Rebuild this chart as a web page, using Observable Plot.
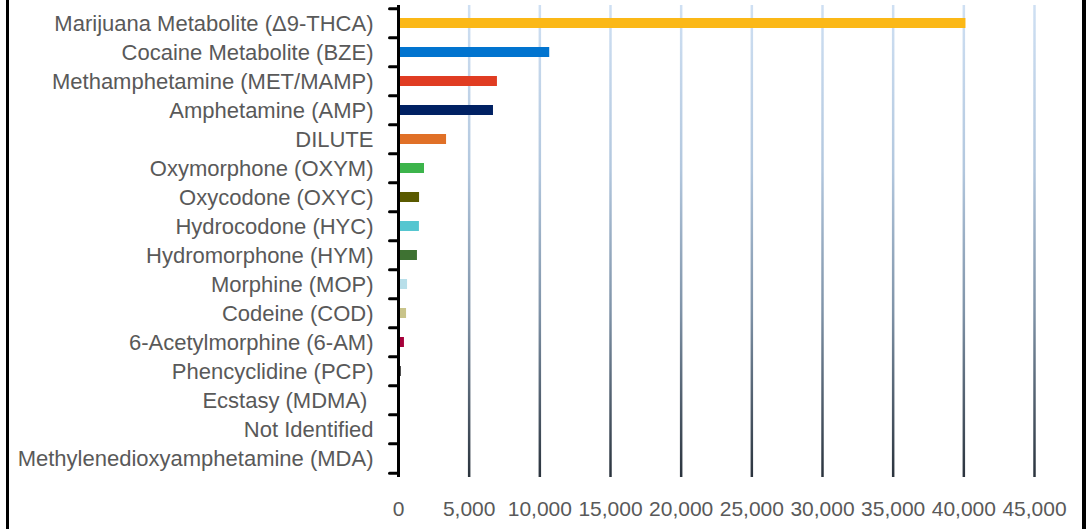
<!DOCTYPE html>
<html>
<head>
<meta charset="utf-8">
<script src="https://cdn.jsdelivr.net/npm/d3@7"></script>
<script src="https://cdn.jsdelivr.net/npm/@observablehq/plot@0.6"></script>
<style>
  html, body { margin: 0; padding: 0; background: #fff; }
  #wrap { position: relative; width: 1086px; height: 529px; overflow: hidden; }
  .edge { position: absolute; top: 0; height: 529px; background: #000; }
</style>
</head>
<body>
<div id="wrap">
  <div class="edge" style="left:6px;width:3px"></div>
  <div class="edge" style="left:1082px;width:4px"></div>
</div>
<script>
const categories = [
  "Marijuana Metabolite (Δ9-THCA)",
  "Cocaine Metabolite (BZE)",
  "Methamphetamine (MET/MAMP)",
  "Amphetamine (AMP)",
  "DILUTE",
  "Oxymorphone (OXYM)",
  "Oxycodone (OXYC)",
  "Hydrocodone (HYC)",
  "Hydromorphone (HYM)",
  "Morphine (MOP)",
  "Codeine (COD)",
  "6-Acetylmorphine (6-AM)",
  "Phencyclidine (PCP)",
  "Ecstasy (MDMA) ",
  "Not Identified",
  "Methylenedioxyamphetamine (MDA)"
];
const values = [40150, 10700, 7000, 6720, 3400, 1840, 1490, 1480, 1340, 640, 570, 420, 190, 80, 20, 10];
const barColors = ["#FBB817", "#0174CF", "#E03C22", "#002163", "#E07027", "#3CB44B", "#5A5A00", "#55C6D0",
  "#3E7232", "#B8DFEA", "#C9C48A", "#A6003A", "#000000", "#000000", "#000000", "#000000"];
const xTicks = [0, 5000, 10000, 15000, 20000, 25000, 30000, 35000, 40000, 45000];

const data = categories.map((c, i) => ({name: c, value: values[i]}));
const lastCat = [categories[categories.length - 1]];

const tickShape = {draw(context, l) { context.moveTo(0, 0); context.lineTo(0, -l); }};

const chart = Plot.plot({
  width: 1086,
  height: 529,
  marginLeft: 398,
  marginRight: 52,
  marginTop: 5,
  marginBottom: 52,
  style: {fontFamily: "'Liberation Sans', Arial, sans-serif", fontSize: "22px", color: "#595959", background: "transparent"},
  x: {domain: [0, 45000], label: null},
  y: {domain: categories, paddingInner: 0.64, paddingOuter: 0.32, label: null},
  color: {domain: categories, range: barColors},
  marks: [
    Plot.ruleX(xTicks.slice(1), {stroke: "url(#gridGrad)", strokeWidth: 2.5}),
    Plot.barX(data, {y: "name", x: "value", fill: "name"}),
    Plot.axisX({ticks: xTicks, tickSize: 0, tickPadding: 24, fontSize: 21, tickFormat: d3.format(","), label: null}),
    Plot.axisY({tickSize: 0, tickPadding: 25, label: null}),
    Plot.vector(categories, {x: 0, y: d => d, length: 9, rotate: -90, anchor: "start", shape: tickShape, dy: -14.75, stroke: "#000", strokeWidth: 3}),
    Plot.vector(lastCat, {x: 0, y: d => d, length: 9, rotate: -90, anchor: "start", shape: tickShape, dy: 14.75, stroke: "#000", strokeWidth: 3}),
    Plot.ruleX([0], {stroke: "#000", strokeWidth: 3})
  ]
});

const svg = d3.select(chart);
const defs = svg.insert("defs", ":first-child");
const grad = defs.append("linearGradient")
  .attr("id", "gridGrad")
  .attr("gradientUnits", "userSpaceOnUse")
  .attr("x1", 0).attr("y1", 5).attr("x2", 0).attr("y2", 477);
[["0%", "#CFE0F3"], ["35%", "#B2C7DE"], ["65%", "#7F93A8"], ["100%", "#2A333D"]].forEach(([o, c]) => {
  grad.append("stop").attr("offset", o).attr("stop-color", c);
});

chart.style.position = "absolute";
chart.style.left = "0px";
chart.style.top = "0px";
document.getElementById("wrap").appendChild(chart);
</script>
</body>
</html>
